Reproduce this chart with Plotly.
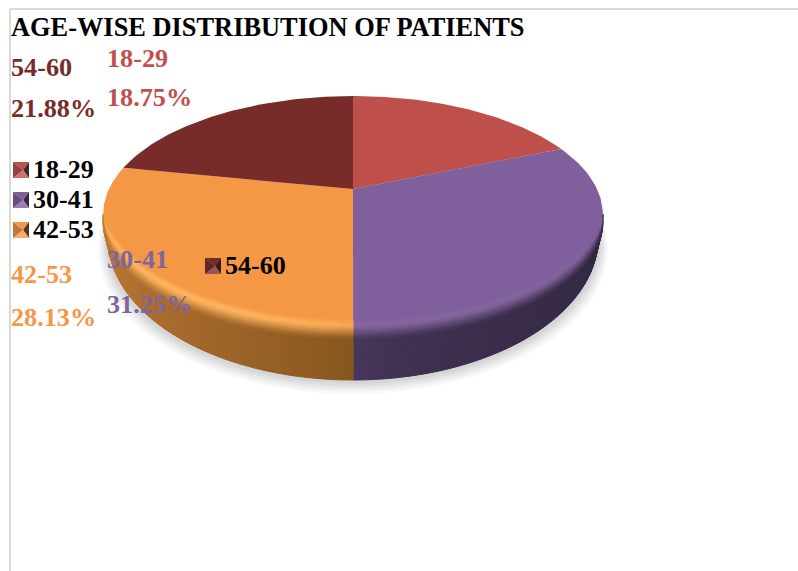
import numpy as np
import plotly.graph_objects as go

# ---- data ----
categories = ["18-29", "30-41", "42-53", "54-60"]
shares = [18.75, 31.25, 28.13, 21.88]
title_text = "AGE-WISE DISTRIBUTION OF PATIENTS"

# ---- style ----
face_colors = ["#BE4F4B", "#7F609D", "#F49845", "#772C2A"]
text_colors = ["#C0504D", "#8064A2", "#F79646", "#772C2A"]
FONT = "Liberation Serif"
label_spots = [(106, 58, 97), (106, 259, 304), (10, 274, 317), (10, 67, 108)]
legend_spots = [(13, 170), (13, 200), (13, 230), (205, 266)]

# ---- projection of the tilted disc ----
CX, CY, A, B, K = 353.0, 189.0, 244.0, 113.0, 0.215
LOW_CY, LOW_A, LOW_B = 238.0, 245.0, 142.0
TOP_A = A / np.sqrt(1 - K * K)
TH_MIN = np.degrees(np.arccos(-K))
TH_MAX = 360 - TH_MIN


def rim(deg):
    t = np.radians(deg)
    w = 1 + K * np.cos(t)
    return CX + A * np.sin(t) / w, CY - B * np.cos(t) / w


def lower_point(x):
    q = np.clip((x - CX) / TOP_A, -1, 1)
    return CX + LOW_A * q, LOW_CY + LOW_B * np.sqrt(1 - q * q)


def hex2(c):
    return np.array([int(c[i:i + 2], 16) for i in (1, 3, 5)], float)


def rgb(v):
    return "rgb(%d,%d,%d)" % tuple(np.clip(np.round(v), 0, 255))


wall_seam = {1: hex2("#4A3860"), 2: hex2("#85551F")}
wall_far = {1: hex2("#31273F"), 2: hex2("#C07A34")}
wall_power = {1: .45, 2: .8}
highlight = {1: hex2("#86689F"), 2: hex2("#FFB55E")}

fig = go.Figure()


def poly(xs, ys, color, width=0.8):
    fig.add_trace(go.Scatter(
        x=list(xs) + [xs[0]], y=list(ys) + [ys[0]], mode="lines", fill="toself",
        fillcolor=color, line=dict(color=color, width=width),
        hoverinfo="skip", showlegend=False))


# soft shadow
ang = np.linspace(0, 2 * np.pi, 160)
for grow, alpha in [(11, .025), (9, .03), (7, .035), (5, .04), (3, .04)]:
    poly(CX + (LOW_A + grow * .9) * np.sin(ang), LOW_CY + grow + (LOW_B + grow * .3) * np.cos(ang),
         "rgba(0,0,0,%.3f)" % alpha, width=0)

cum = np.cumsum([0] + shares) / sum(shares) * 360
D0, D1, BANDS = -14.0, 8.0, 10
band_edges = np.linspace(D0, D1, BANDS + 1)


def wall_color(i, mid):
    f = min(abs(mid - 180) / (180 - TH_MIN), 1)
    return wall_seam[i] + (wall_far[i] - wall_seam[i]) * f ** wall_power[i], f


def offset(d, deg):
    """Bevel offset; its inner part closes up at the widest point of the rim."""
    f = min(abs(deg - 180) / (180 - TH_MIN), 1)
    return d * min(1, (1 - f) / .2) if d < 0 else d


bevel_cells = []
for i in (1, 2):
    a0, a1 = max(cum[i], TH_MIN), min(cum[i + 1], TH_MAX)
    # side wall
    edges = np.linspace(a0, a1, 71)
    for s0, s1 in zip(edges[:-1], edges[1:]):
        wall, _ = wall_color(i, (s0 + s1) / 2)
        (x0, y0), (x1, y1) = rim(s0), rim(s1)
        lx0, ly0 = lower_point(x0)
        lx1, ly1 = lower_point(x1)
        poly([x0, x1, lx1, lx0], [y0 + D1 - 1, y1 + D1 - 1, max(ly1, y1 + D1), max(ly0, y0 + D1)], rgb(wall), 1.0)
    # rounded edge
    edges = np.linspace(a0, a1, 31)
    for s0, s1 in zip(edges[:-1], edges[1:]):
        wall, f = wall_color(i, (s0 + s1) / 2)
        (x0, y0), (x1, y1) = rim(s0), rim(s1)
        face = hex2(face_colors[i])
        w = (0.35 + 0.65 * np.sin(np.radians(f * 180)) ** .5) if i == 2 else (1 - f)
        hi = face + (highlight[i] - face) * w
        for j in range(BANDS):
            t = (j + .5) / BANDS
            if t < .25:
                col = face + (hi - face) * (t / .25)
            else:
                e = (t - .25) / .75
                col = hi + (wall - hi) * (e * e * (3 - 2 * e))
            d_a, d_b = band_edges[j], band_edges[j + 1]
            bevel_cells.append(([x0, x1, x1, x0],
                                [y0 + offset(d_a, s0), y1 + offset(d_a, s1),
                                 y1 + offset(d_b, s1), y0 + offset(d_b, s0)], rgb(col)))

# top faces
for i, c in enumerate(face_colors):
    arc = np.linspace(cum[i], cum[i + 1], 90)
    xs, ys = rim(arc)
    poly([CX] + list(xs), [CY] + list(ys), c, width=0)

for xs, ys, col in bevel_cells:
    poly(xs, ys, col, 0.8)

# legend keys: small bevelled squares
S = 16
white, dark = np.array([255, 255, 255.0]), np.array([30, 22, 25.0])
for (lx, ly), c in zip(legend_spots, face_colors):
    base = hex2(c)
    l, r, t, b = lx, lx + S, ly - S / 2, ly + S / 2
    mx, my = lx + S / 2 + 2, ly
    poly([l, r, mx], [t, t, my], rgb(base), 0)
    poly([r, r, mx], [t, b, my], rgb(base + (dark - base) * .75), 0)
    poly([l, r, mx], [b, b, my], rgb(base + (white - base) * .2), 0)
    poly([l, l, mx], [t, b, my], rgb(base + (dark - base) * .25), 0)

notes = [dict(x=10, y=27, text="<b>%s</b>" % title_text, font=dict(size=26.4, color="#000000"))]
for name, share, tc, (lx, y1, y2) in zip(categories, shares, text_colors, label_spots):
    notes.append(dict(x=lx, y=y1, text="<b>%s</b>" % name, font=dict(size=26.2, color=tc)))
    notes.append(dict(x=lx, y=y2, text="<b>%.2f%%</b>" % share, font=dict(size=26.2, color=tc)))
for name, (lx, ly) in zip(categories, legend_spots):
    notes.append(dict(x=lx + S + 3, y=ly - 1, text="<b>%s</b>" % name, font=dict(size=26, color="#000000")))
for n in notes:
    n.update(xref="x", yref="y", xanchor="left", yanchor="middle", showarrow=False,
             align="left", borderpad=0)
    n["font"]["family"] = FONT

frame = dict(color="#D9D9D9", width=2)
fig.update_layout(
    width=798, height=571, margin=dict(l=0, r=0, t=0, b=0),
    paper_bgcolor="#FFFFFF", plot_bgcolor="#FFFFFF", showlegend=False, annotations=notes,
    xaxis=dict(range=[0, 798], visible=False, fixedrange=True),
    yaxis=dict(range=[571, 0], visible=False, fixedrange=True),
    shapes=[dict(type="line", xref="x", yref="y", x0=10, x1=798, y0=9, y1=9, line=frame, layer="below"),
            dict(type="line", xref="x", yref="y", x0=10, x1=10, y0=9, y1=571, line=frame, layer="below")],
)
fig.write_html("out.html", config=dict(displayModeBar=False),
               post_script="document.body.style.margin='0';document.documentElement.style.overflow='hidden';")
